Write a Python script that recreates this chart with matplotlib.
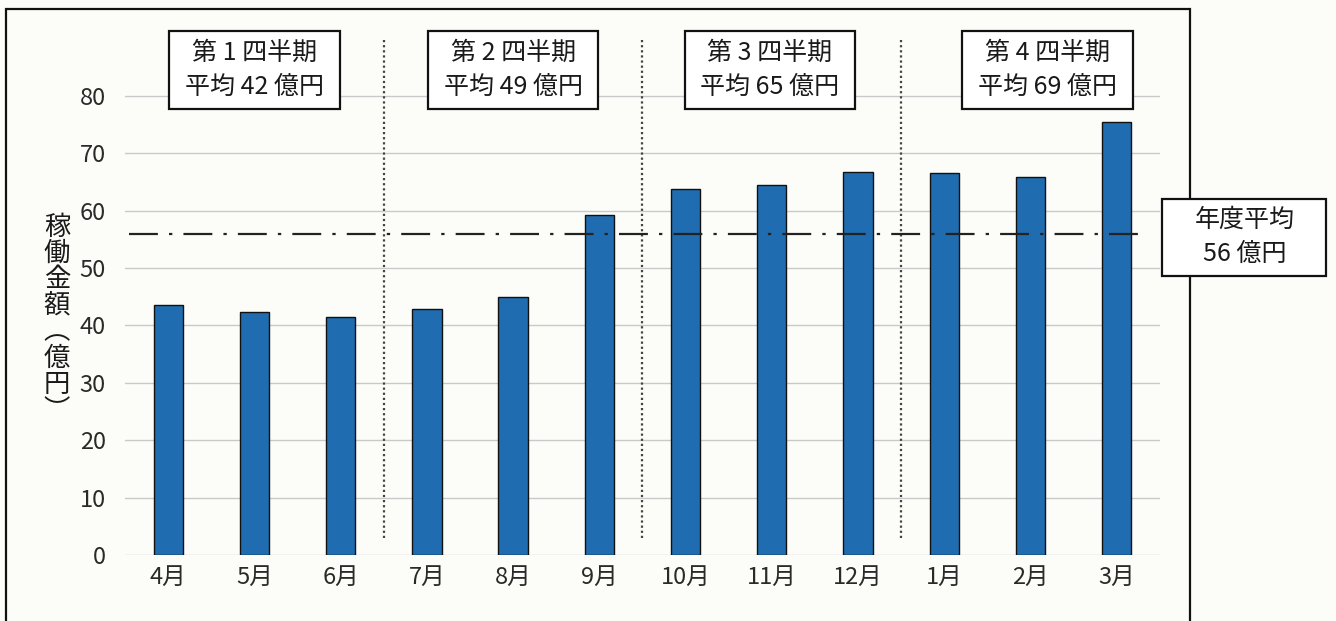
import matplotlib
matplotlib.use("Agg")
import matplotlib.pyplot as plt
from matplotlib.patches import Rectangle

plt.rcParams['font.family'] = ['Noto Sans CJK JP', 'DejaVu Sans']

months = ["4月", "5月", "6月", "7月", "8月", "9月",
          "10月", "11月", "12月", "1月", "2月", "3月"]
amounts = [43.6, 42.3, 41.4, 42.8, 44.9, 59.3,
           63.8, 64.5, 66.8, 66.5, 65.8, 75.5]
quarter_names = ["第 1 四半期", "第 2 四半期", "第 3 四半期", "第 4 四半期"]
quarter_avgs = [42, 49, 65, 69]
annual_avg = 56
y_ticks = [0, 10, 20, 30, 40, 50, 60, 70, 80]
y_label = "稼働金額︵億円︶"

bg = "#fcfcf8"
bar_color = "#1f6db0"

fig = plt.figure(figsize=(13.36, 6.21), dpi=100, facecolor=bg)
ax = fig.add_axes([0.0936, 0.1063, 0.7745, 0.8502])
ax.set_facecolor("none")

x = list(range(len(months)))
ax.bar(x, amounts, width=0.34, color=bar_color, edgecolor="#111111",
       linewidth=1.0, zorder=3)

ax.set_xlim(-0.5, len(months) - 0.5)
ax.set_ylim(0, 92)
ax.set_yticks(y_ticks)
ax.set_xticks(x)
ax.set_xticklabels(months)
ax.tick_params(axis="both", length=0, labelsize=17, colors="#2a2a2a")
ax.tick_params(axis="y", pad=14)
ax.tick_params(axis="x", pad=8)
for s in ax.spines.values():
    s.set_visible(False)
ax.yaxis.grid(True, color="#c9c9c9", linewidth=1.0, zorder=0)
ax.set_axisbelow(True)

# quarter separators
for q in range(1, 4):
    ax.plot([3 * q - 0.5, 3 * q - 0.5], [3, 90], color="#444444",
            linewidth=1.6, linestyle=(0, (1, 1.3)), zorder=2)

# annual average line
ax.plot([-0.45, len(months) - 0.7], [annual_avg, annual_avg],
        color="#222222", linewidth=1.6,
        linestyle=(0, (13, 5, 1.5, 5)), zorder=4)


def boxed_label(cx, cy, w, h, text, z):
    ax.add_patch(Rectangle((cx - w / 2, cy - h / 2), w, h, facecolor="white",
                           edgecolor="#111111", linewidth=1.6, zorder=z,
                           clip_on=False))
    ax.text(cx, cy, text, ha="center", va="center", fontsize=18,
            color="#1a1a1a", linespacing=1.4, zorder=z + 0.1, clip_on=False)


quarter_x = [1, 4, 6.98, 10.2]
for qx, name, avg in zip(quarter_x, quarter_names, quarter_avgs):
    boxed_label(qx, 84.5, 1.98, 13.6, f"{name}\n平均 {avg} 億円", 5)

boxed_label(12.48, annual_avg - 0.6, 1.9, 13.4,
            f"年度平均\n{annual_avg} 億円", 6)

# vertical axis title, one character per line
fig.text(57 / 1336, 1 - 319 / 621, "\n".join(y_label), ha="center",
         va="center", fontsize=19, color="#1a1a1a", linespacing=0.96)

# outer frame
frame = Rectangle((6 / 1336, -0.05), (1190 - 6) / 1336, 1.05 - 9 / 621,
                  transform=fig.transFigure, fill=False,
                  edgecolor="#111111", linewidth=1.6, zorder=-1)
fig.patches.append(frame)

fig.savefig("out.png", dpi=100, facecolor=bg)
